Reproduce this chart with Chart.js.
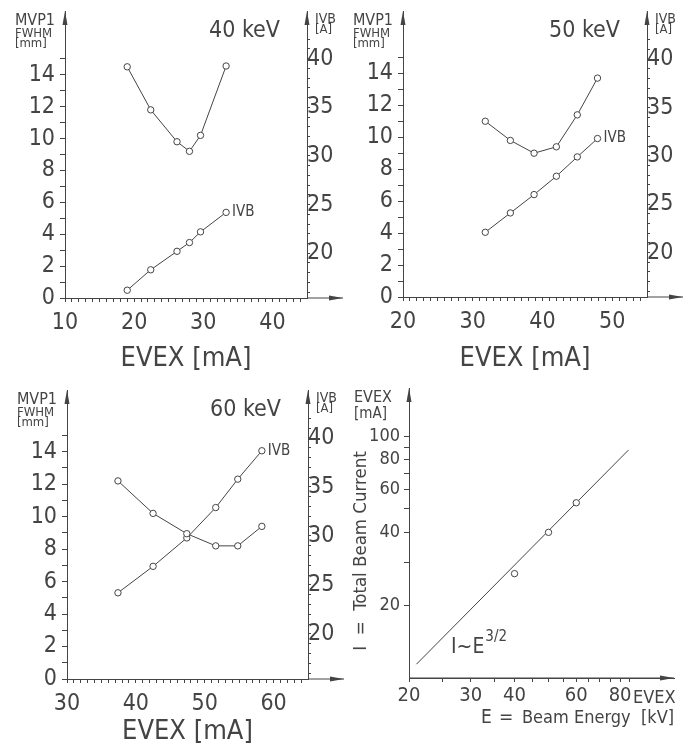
<!DOCTYPE html>
<html>
<head>
<meta charset="utf-8">
<script src="https://cdn.jsdelivr.net/npm/chart.js@4.4.1/dist/chart.umd.min.js"></script>
<style>
  body { margin: 0; background: #fff; }
  #wrap { position: relative; width: 692px; height: 746px; }
  canvas { position: absolute; }
</style>
</head>
<body>
<div id="wrap">
  <canvas id="c40" width="346" height="373" style="left:0;top:0"></canvas>
  <canvas id="c50" width="346" height="373" style="left:346px;top:0"></canvas>
  <canvas id="c60" width="346" height="373" style="left:0;top:373px"></canvas>
  <canvas id="cE" width="346" height="373" style="left:346px;top:373px"></canvas>
</div>
<script>
// values
const evex40 = [19.0, 22.4, 26.2, 28.0, 29.6, 33.3];
const mvp40 = [14.5, 11.8, 9.8, 9.2, 10.2, 14.55];
const ivb40 = [16.2, 18.3, 20.2, 21.1, 22.2, 24.2];

const evex50 = [31.8, 35.4, 38.8, 42.0, 45.0, 47.9];
const mvp50 = [11.0, 9.8, 9.0, 9.4, 11.4, 13.7];
const ivb50 = [22.1, 24.1, 26.0, 27.9, 29.9, 31.8];

const evex60 = [37.4, 42.5, 47.4, 51.6, 54.8, 58.3];
const mvp60 = [12.2, 10.2, 8.95, 8.2, 8.2, 9.4];
const ivb60 = [24.2, 26.9, 29.8, 32.9, 35.8, 38.7];

const beamKV = [40, 50, 60];
const beamMA = [27, 40, 53];
const fitKV = [21, 84.5];
const fitMA = [11.4, 87.5];

const xTicksE = [20, 25, 30, 35, 40, 45, 50, 55, 60, 65, 70, 75, 80, 85];
const xLabelsE = [20, 30, 40, 60, 80];
const yTicksE = [20, 30, 40, 50, 60, 70, 80, 90, 100];
const yLabelsE = [20, 40, 60, 80, 100];

const ink = '#444';
const face = "'DejaVu Sans Condensed', 'Liberation Sans Narrow', 'DejaVu Sans', sans-serif";
Chart.defaults.font.family = face;
Chart.defaults.color = ink;

function fixBox(w, h) {
  return function(s) {
    if (w !== undefined) s.width = w;
    if (h !== undefined) s.height = h;
    s.paddingTop = 0; s.paddingBottom = 0; s.paddingLeft = 0; s.paddingRight = 0;
  };
}
function setTicks(list) {
  return function(s) { s.ticks = list.map(v => ({value: v})); };
}
function range(a, b) {
  const out = [];
  for (let v = a; v <= b; v++) out.push(v);
  return out;
}

function arrowUp(ctx, x, y) {
  ctx.beginPath();
  ctx.moveTo(x, y);
  ctx.lineTo(x - 2.5, y + 14);
  ctx.lineTo(x + 2.5, y + 14);
  ctx.closePath();
  ctx.fill();
}
function arrowRight(ctx, x, y) {
  ctx.beginPath();
  ctx.moveTo(x, y);
  ctx.lineTo(x - 14, y - 2.5);
  ctx.lineTo(x - 14, y + 2.5);
  ctx.closePath();
  ctx.fill();
}
function txt(ctx, s, x, y, size, align, base) {
  ctx.font = size + 'px ' + face;
  ctx.textAlign = align || 'left';
  ctx.textBaseline = base || 'alphabetic';
  ctx.fillText(s, x, y);
  return ctx.measureText(s).width;
}

const decor = {
  id: 'decor',
  afterDraw(chart, args, o) {
    const ctx = chart.ctx, a = chart.chartArea;
    ctx.save();
    ctx.fillStyle = ink;
    ctx.strokeStyle = ink;
    ctx.lineWidth = 1;
    arrowUp(ctx, a.left, a.top);
    if (o.kind === 'scan') {
      arrowUp(ctx, a.right, a.top);
      ctx.beginPath();
      ctx.moveTo(a.right, a.bottom);
      ctx.lineTo(a.right + 36, a.bottom);
      ctx.stroke();
      arrowRight(ctx, a.right + 36, a.bottom);

      ctx.font = '16px ' + face;
      const x0 = a.left - 10 - ctx.measureText('MVP1').width;
      txt(ctx, 'MVP1', x0, a.top + 14, 16);
      txt(ctx, 'FWHM', x0, a.top + 26, 13);
      txt(ctx, '[mm]', x0, a.top + 36, 13);
      txt(ctx, o.keV, a.right - 27, a.top + 26, 23, 'right');
      txt(ctx, 'IVB', a.right + 8, a.top + 12, 14);
      txt(ctx, '[A]', a.right + 8, a.top + 22, 13);

      const pts = chart.getDatasetMeta(1).data;
      const last = pts[pts.length - 1];
      txt(ctx, 'IVB', last.x + 6, last.y, 15, 'left', 'middle');
    } else {
      ctx.beginPath();
      ctx.moveTo(a.left, a.bottom);
      ctx.lineTo(a.right, a.bottom);
      ctx.stroke();
      arrowRight(ctx, a.right, a.bottom);
      txt(ctx, 'EVEX', 8, 29, 16);
      txt(ctx, '[mA]', 8, 45, 15);
      ctx.save();
      ctx.translate(15, 178);
      ctx.rotate(-Math.PI / 2);
      txt(ctx, 'I  =  Total Beam Current', 0, 0, 18.5, 'center', 'middle');
      ctx.restore();
      const w = txt(ctx, 'I~E', 105, 280, 21);
      txt(ctx, '3/2', 105 + w + 1, 268, 15);
      txt(ctx, 'EVEX', 287, a.bottom + 20, 18, 'left', 'middle');
      txt(ctx, 'E', 135, a.bottom + 40, 19, 'left', 'middle');
      txt(ctx, '=', 153, a.bottom + 40, 19, 'left', 'middle');
      txt(ctx, 'Beam Energy', 176, a.bottom + 40, 18, 'left', 'middle');
      txt(ctx, '[kV]', 295, a.bottom + 40, 18, 'left', 'middle');
    }
    ctx.restore();
  }
};

function axisLook(tl) {
  return {
    grid: {drawOnChartArea: false, tickLength: tl, tickColor: ink, color: ink},
    border: {color: ink, width: 1}
  };
}

function scanPanel(id, evex, mvp, ivb, xr, keV, b) {
  const W = 346, H = 373;
  new Chart(document.getElementById(id), {
    type: 'line',
    data: {
      datasets: [
        {data: evex.map((x, i) => ({x: x, y: mvp[i]})), yAxisID: 'y'},
        {data: evex.map((x, i) => ({x: x, y: ivb[i]})), yAxisID: 'y2'}
      ]
    },
    options: {
      responsive: false, animation: false, events: [],
      layout: {padding: {top: b.t, left: 0, right: 0, bottom: 0}},
      elements: {
        line: {borderColor: ink, borderWidth: 1, tension: 0, fill: false},
        point: {radius: 3.2, borderWidth: 1, borderColor: ink, backgroundColor: '#fff'}
      },
      plugins: {
        legend: {display: false}, tooltip: {enabled: false},
        decor: {kind: 'scan', keV: keV}
      },
      scales: {
        x: Object.assign(axisLook(4), {
          type: 'linear', bounds: 'data', min: xr[0], max: xr[1],
          afterBuildTicks: setTicks(range(xr[0], xr[1] - 1)),
          afterFit: fixBox(undefined, H - b.b),
          ticks: {autoSkip: false, maxRotation: 0, padding: 7, font: {size: 23},
            callback: v => v % 10 === 0 ? v : ''},
          title: {display: true, text: 'EVEX [mA]', font: {size: 27}, padding: {top: 0, bottom: -2}}
        }),
        y: Object.assign(axisLook(5), {
          position: 'left', bounds: 'data', min: 0, max: b.ymax,
          afterBuildTicks: setTicks(range(0, 15)),
          afterFit: fixBox(b.l),
          ticks: {autoSkip: false, padding: 5, font: {size: 23},
            callback: v => (v % 2 === 0 && v <= 14) ? v : ''}
        }),
        y2: Object.assign(axisLook(3), {
          position: 'right', bounds: 'data', min: 15.4, max: b.y2max,
          afterBuildTicks: setTicks(range(16, 42)),
          afterFit: fixBox(W - b.r),
          ticks: {autoSkip: false, padding: -3, font: {size: 23},
            callback: v => v % 5 === 0 ? v : ''}
        })
      }
    },
    plugins: [decor]
  });
}

scanPanel('c40', evex40, mvp40, ivb40, [10, 45], '40 keV', {l: 65, r: 307, t: 11, b: 298, ymax: 18.0, y2max: 44.9});
scanPanel('c50', evex50, mvp50, ivb50, [20, 55], '50 keV', {l: 57, r: 301, t: 11, b: 297, ymax: 17.9, y2max: 45.0});
scanPanel('c60', evex60, mvp60, ivb60, [30, 65], '60 keV', {l: 67, r: 308, t: 17, b: 306, ymax: 17.8, y2max: 44.9});

// beam current vs. beam energy, log-log
new Chart(document.getElementById('cE'), {
  type: 'scatter',
  data: {
    datasets: [
      {data: beamKV.map((x, i) => ({x: x, y: beamMA[i]})), showLine: false,
        pointRadius: 3.2, borderColor: ink, backgroundColor: '#fff', borderWidth: 1},
      {data: fitKV.map((x, i) => ({x: x, y: fitMA[i]})), showLine: true,
        pointRadius: 0, borderColor: ink, borderWidth: 1}
    ]
  },
  options: {
    responsive: false, animation: false, events: [],
    layout: {padding: {top: 15, left: 0, right: 18, bottom: 0}},
    plugins: {legend: {display: false}, tooltip: {enabled: false}, decor: {kind: 'log'}},
    scales: {
      x: Object.assign(axisLook(4), {
        type: 'logarithmic', bounds: 'data', min: 20, max: 114,
        afterBuildTicks: setTicks(xTicksE),
        afterFit: fixBox(undefined, 68),
        ticks: {autoSkip: false, maxRotation: 0, padding: 2, font: {size: 20},
          callback: v => xLabelsE.includes(v) ? v : ''}
      }),
      y: Object.assign(axisLook(5), {
        type: 'logarithmic', bounds: 'data', min: 10, max: 158,
        afterBuildTicks: setTicks(yTicksE),
        afterFit: fixBox(63),
        ticks: {autoSkip: false, padding: 4, font: {size: 18},
          callback: v => yLabelsE.includes(v) ? v : ''}
      })
    }
  },
  plugins: [decor]
});
</script>
</body>
</html>
